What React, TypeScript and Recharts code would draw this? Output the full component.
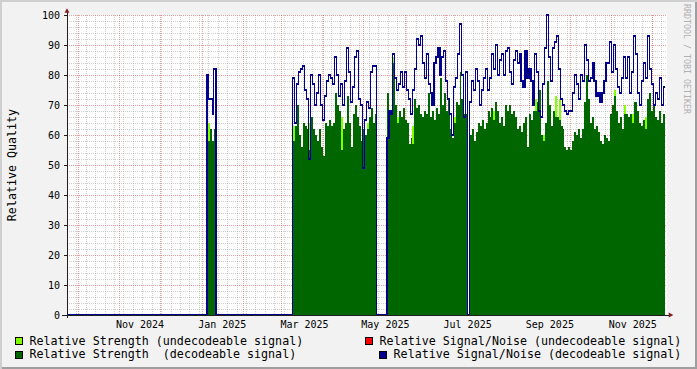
import React from 'react';
import {
  ComposedChart,
  Area,
  Line,
  XAxis,
  YAxis,
  CartesianGrid,
  ReferenceLine,
  ReferenceDot,
} from 'recharts';

// Time axis: day numbers counted from 1 Oct 2024 (= day 0)
const X_DOMAIN: [number, number] = [-8.2, 436.9];
const Y_DOMAIN: [number, number] = [0, 100];

const monthLabels = ['Nov 2024', 'Jan 2025', 'Mar 2025', 'May 2025', 'Jul 2025', 'Sep 2025', 'Nov 2025'];
const monthLabelDays = [46, 107, 168, 228, 289, 350, 411.5];
const monthStartDays = [0, 31, 61, 92, 123, 151, 182, 212, 243, 273, 304, 335, 365, 396, 426];
const weekStartDays = Array.from({ length: 64 }, (_, k) => -1 + 7 * k).filter((d) => d <= 436);

const qualityTicks = [0, 10, 20, 30, 40, 50, 60, 70, 80, 90, 100];
const qualityMinorTicks = Array.from({ length: 51 }, (_, k) => k * 2).filter((v) => v % 10 !== 0);

// ---- measured series, one block per period with data ----
const winterSpan = [95.7, 102.4];
const winterSN = [80, 72, 72, 72, 67, 82, 82];
const winterStrength = [55, 58, 62, 62, 58, 62, 60];
const winterWeakSpots = [[1, 64]];

const springSpan = [159.1, 221.4];
const springSN = [79, 64, 77, 81, 82, 83, 75, 72, 52, 80, 77, 70, 74, 80, 70, 65, 73, 78, 80, 79, 77, 86, 80, 73, 77, 70, 78, 89, 81, 71, 76, 86, 88, 72, 70, 49, 65, 71, 69, 81, 83, 83];
const springStrength = [58, 63, 70, 60, 56, 64, 63, 62, 55, 66, 62, 60, 58, 62, 56, 53, 64, 63, 65, 63, 64, 74, 70, 68, 55, 62, 64, 73, 64, 56, 67, 70, 66, 63, 58, 62, 60, 62, 66, 69, 64, 67];
const springWeakSpots = [[0, 63], [8, 64], [24, 66], [37, 64]];

const summerSpan = [229.2, 288.8];
const summerSN = [59, 68, 67, 87, 79, 75, 77, 81, 76, 81, 75, 72, 67, 75, 82, 92, 90, 93, 84, 79, 87, 77, 74, 70, 84, 86, 89, 80, 86, 88, 78, 72, 67, 60, 76, 79, 87, 97, 80, 66, 81];
const summerStrength = [74, 67, 67, 84, 70, 64, 68, 66, 69, 65, 64, 57, 59, 57, 72, 69, 70, 67, 66, 68, 67, 74, 66, 68, 65, 69, 67, 79, 70, 74, 68, 72, 62, 59, 64, 71, 70, 81, 72, 67, 67];
const summerWeakSpots = [[3, 86], [5, 66], [13, 63], [34, 66]];

const autumnSpan = [290.6, 435.5];
const autumnSN = [
  71, 78, 75, 82, 78, 70, 75, 79, 82, 75, 79, 87, 82, 90, 80, 85, 87, 80, 88, 89,
  81, 77, 85, 88, 84, 87, 78, 76, 88, 79, 82, 78, 70, 87, 81, 68, 66, 77, 89, 100,
  86, 78, 89, 91, 93,
  82, 72, 70, 68, 67, 68, 68, 74, 80, 77, 72, 80, 78, 90, 85, 78, 79, 84, 78, 73,
  74, 71, 74, 78, 84, 84, 91, 81, 90, 82, 76, 74, 79, 86, 79, 86, 74, 81, 93, 87,
  74, 70, 78, 84, 79, 93, 82, 77, 70, 74, 72, 79, 70, 76,
];
const autumnStrength = [
  60, 62, 58, 61, 64, 63, 65, 62, 64, 68, 66, 69, 65, 71, 68, 64, 66, 63, 70, 68,
  70, 67, 68, 66, 62, 63, 61, 64, 66, 56, 67, 65, 68, 68, 71, 75, 60, 58, 64, 78,
  70, 63, 68, 66, 66,
  65, 63, 62, 56, 55, 56, 55, 58, 61, 60, 62, 59, 62, 71, 80, 72, 64, 66, 62, 63,
  61, 58, 57, 60, 59, 58, 67, 70, 73, 68, 64, 66, 62, 67, 67, 66, 67, 64, 71, 71,
  68, 64, 63, 65, 62, 72, 74, 68, 70, 66, 65, 68, 64, 67,
];
const autumnWeakSpots = [[12, 68], [33, 72], [37, 60], [43, 73], [45, 72], [73, 75], [78, 70], [82, 67], [89, 66]];

const segments = [
  { span: winterSpan, sn: winterSN, strength: winterStrength, weakSpots: winterWeakSpots },
  { span: springSpan, sn: springSN, strength: springStrength, weakSpots: springWeakSpots },
  { span: summerSpan, sn: summerSN, strength: summerStrength, weakSpots: summerWeakSpots },
  { span: autumnSpan, sn: autumnSN, strength: autumnStrength, weakSpots: autumnWeakSpots },
];

type Row = { t: number; sn: number; strength: number; weak: number };

function buildRows(): Row[] {
  const rows: Row[] = [{ t: X_DOMAIN[0], sn: 0, strength: 0, weak: 0 }];
  segments.forEach((seg, k) => {
    const n = seg.sn.length;
    const step = (seg.span[1] - seg.span[0]) / n;
    const weak: number[] = new Array(n).fill(0);
    seg.weakSpots.forEach(([i, v]) => {
      weak[i] = v;
    });
    for (let i = 0; i < n; i++) {
      rows.push({ t: seg.span[0] + i * step, sn: seg.sn[i], strength: seg.strength[i], weak: weak[i] });
    }
    const isLast = k === segments.length - 1;
    rows.push(
      isLast
        ? { t: seg.span[1], sn: seg.sn[n - 1], strength: seg.strength[n - 1], weak: weak[n - 1] }
        : { t: seg.span[1], sn: 0, strength: 0, weak: 0 }
    );
  });
  return rows;
}

const rows = buildRows();

// grid line generators: map axis values through the axis scale
const xGrid = (values: number[]) => (props: any) => {
  const scale = props?.xAxis?.scale;
  if (typeof scale === 'function') return values.map((v) => scale(v));
  const o = props.offset;
  return values.map((v) => o.left + ((v - X_DOMAIN[0]) / (X_DOMAIN[1] - X_DOMAIN[0])) * o.width);
};
const yGrid = (values: number[]) => (props: any) => {
  const scale = props?.yAxis?.scale;
  if (typeof scale === 'function') return values.map((v) => scale(v));
  const o = props.offset;
  return values.map((v) => o.top + (1 - (v - Y_DOMAIN[0]) / (Y_DOMAIN[1] - Y_DOMAIN[0])) * o.height);
};

const MONO = '"DejaVu Sans Mono", monospace';
const AXIS = '#1f1f1f';
const ARROW = '#801f1f';
const SN_BLUE = '#00008c';

const UpArrow = (props: any) => {
  const { cx, cy } = props;
  return <polygon points={`${cx - 2.5},${cy + 2.3} ${cx + 2.5},${cy + 2.3} ${cx},${cy - 2.3}`} fill={ARROW} />;
};
const RightArrow = (props: any) => {
  const { cx, cy } = props;
  return <polygon points={`${cx - 2.3},${cy - 2.5} ${cx - 2.3},${cy + 2.5} ${cx + 2.3},${cy}`} fill={ARROW} />;
};
const EmptyTick = () => <g />;

const legendText: React.CSSProperties = {
  position: 'absolute',
  fontFamily: MONO,
  fontSize: 11.66,
  lineHeight: '14px',
  whiteSpace: 'pre',
  color: '#000',
};
const swatch = (color: string): React.CSSProperties => ({
  position: 'absolute',
  width: 8,
  height: 8,
  boxSizing: 'border-box',
  border: '1px solid #000',
  background: color,
});

export default function App() {
  return (
    <div
      style={{
        position: 'absolute',
        left: 0,
        top: 0,
        width: 697,
        height: 369,
        background: '#f2f2f2',
        boxShadow: 'inset 2px 2px 0 #cfcfcf, inset -2px -2px 0 #9e9e9e',
        overflow: 'hidden',
      }}
    >
      <style>{`
        .recharts-cartesian-grid line,
        .recharts-line-curve,
        .recharts-area-area,
        .recharts-reference-line-line,
        .recharts-cartesian-axis-tick-line { shape-rendering: crispEdges; }
      `}</style>
      <ComposedChart
        width={697}
        height={369}
        data={rows}
        margin={{ top: 15, right: 30, bottom: 34, left: 0 }}
        style={{ position: 'absolute', left: 0, top: 0, fontFamily: MONO }}
      >
        <XAxis
          xAxisId="month"
          dataKey="t"
          type="number"
          domain={X_DOMAIN}
          ticks={monthStartDays}
          interval={0}
          height={0}
          axisLine={false}
          tickLine={{ stroke: 'rgba(222,79,79,0.8)' }}
          tickSize={3}
          tick={EmptyTick}
        />
        <XAxis
          dataKey="t"
          type="number"
          domain={X_DOMAIN}
          ticks={monthLabelDays}
          interval={0}
          height={20}
          axisLine={false}
          tickLine={false}
          tickSize={0}
          tickMargin={6}
          tickFormatter={(v: number) => monthLabels[monthLabelDays.indexOf(v)] ?? ''}
          tick={{ fontSize: 10, fill: '#000', fontFamily: MONO }}
        />
        <YAxis
          type="number"
          domain={Y_DOMAIN}
          ticks={qualityTicks}
          interval={0}
          width={67}
          axisLine={false}
          tickLine={{ stroke: AXIS }}
          tickSize={3}
          tickMargin={4}
          tick={{ fontSize: 10, fill: '#000', fontFamily: MONO }}
        />
        <CartesianGrid
          stroke="rgba(143,143,143,0.42)"
          strokeDasharray="1 1"
          fill="#ffffff"
          fillOpacity={1}
          verticalCoordinatesGenerator={xGrid(weekStartDays)}
          horizontalCoordinatesGenerator={yGrid(qualityMinorTicks)}
        />
        <CartesianGrid
          stroke="rgba(222,79,79,0.55)"
          strokeDasharray="1 1"
          fill="none"
          verticalCoordinatesGenerator={xGrid(monthStartDays)}
          horizontalCoordinatesGenerator={yGrid(qualityTicks)}
        />
        <Area
          type="stepAfter"
          dataKey="weak"
          stroke="none"
          fill="#80ff00"
          fillOpacity={1}
          dot={false}
          activeDot={false}
          isAnimationActive={false}
        />
        <Area
          type="stepAfter"
          dataKey="strength"
          stroke="none"
          fill="#006600"
          fillOpacity={1}
          dot={false}
          activeDot={false}
          isAnimationActive={false}
        />
        <Line
          type="stepAfter"
          dataKey="sn"
          stroke={SN_BLUE}
          strokeWidth={1.2}
          dot={false}
          activeDot={false}
          isAnimationActive={false}
        />
        <ReferenceLine
          segment={[{ x: X_DOMAIN[0], y: -1 }, { x: X_DOMAIN[0], y: 101 }]}
          stroke={AXIS}
          ifOverflow="visible"
        />
        <ReferenceLine
          segment={[{ x: -11.9, y: 0 }, { x: 439.1, y: 0 }]}
          stroke={AXIS}
          ifOverflow="visible"
        />
        <ReferenceDot x={X_DOMAIN[0]} y={101.5} r={2} ifOverflow="visible" shape={UpArrow} />
        <ReferenceDot x={439.9} y={0} r={2} ifOverflow="visible" shape={RightArrow} />
      </ComposedChart>

      <div
        style={{
          position: 'absolute',
          left: 11.5 - 100,
          top: 164.5 - 7,
          width: 200,
          height: 14,
          lineHeight: '14px',
          textAlign: 'center',
          transform: 'rotate(-90deg)',
          fontFamily: MONO,
          fontSize: 11.66,
          color: '#000',
          whiteSpace: 'pre',
        }}
      >
        Relative Quality
      </div>

      <div
        style={{
          position: 'absolute',
          left: 692,
          top: 4,
          transformOrigin: '0 0',
          transform: 'rotate(90deg)',
          fontFamily: MONO,
          fontSize: 8.3,
          lineHeight: '10px',
          color: '#b0b0b0',
          whiteSpace: 'pre',
        }}
      >
        RRDTOOL / TOBI OETIKER
      </div>

      <div style={{ ...swatch('#80ff00'), left: 15, top: 337 }} />
      <div style={{ ...legendText, left: 29.5, top: 333.5 }}>Relative Strength (undecodeable signal)</div>
      <div style={{ ...swatch('#006600'), left: 15, top: 351 }} />
      <div style={{ ...legendText, left: 29.5, top: 347 }}>Relative Strength  (decodeable signal)</div>
      <div style={{ ...swatch('#ff0000'), left: 365, top: 337 }} />
      <div style={{ ...legendText, left: 379.6, top: 333.5 }}>Relative Signal/Noise (undecodeable signal)</div>
      <div style={{ ...swatch(SN_BLUE), left: 379, top: 351 }} />
      <div style={{ ...legendText, left: 393.6, top: 347 }}>Relative Signal/Noise (decodeable signal)</div>
    </div>
  );
}
